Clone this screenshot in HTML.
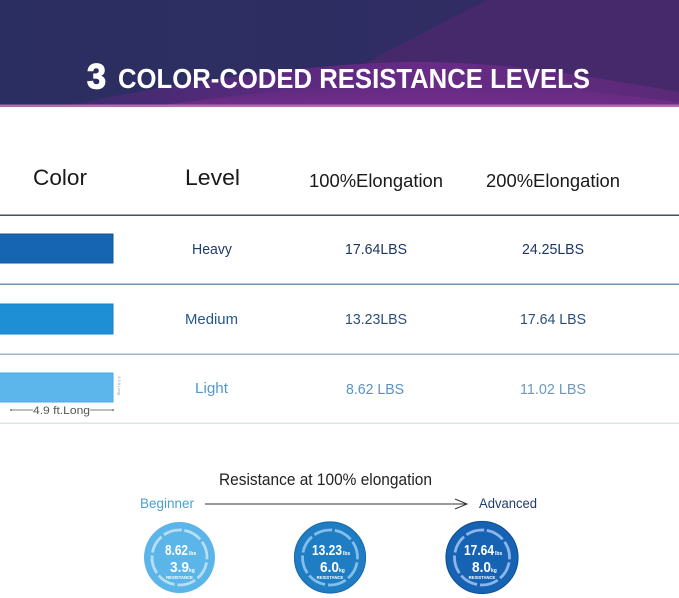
<!DOCTYPE html>
<html>
<head>
<meta charset="utf-8">
<style>
html,body{margin:0;padding:0;background:#fff;}
body{width:679px;height:598px;overflow:hidden;}
svg{display:block;}
text{font-family:"Liberation Sans","DejaVu Sans",sans-serif;}
</style>
</head>
<body>
<svg width="679" height="598" viewBox="0 0 679 598" xmlns="http://www.w3.org/2000/svg">
  <defs>
    <linearGradient id="bg" x1="0" y1="0" x2="1" y2="0">
      <stop offset="0" stop-color="#2b2e61"/>
      <stop offset="0.6" stop-color="#2f2d63"/>
      <stop offset="1" stop-color="#3a2b66"/>
    </linearGradient>
    <linearGradient id="mag" x1="0" y1="0" x2="1" y2="0">
      <stop offset="0" stop-color="#3c2b6c"/>
      <stop offset="0.35" stop-color="#5a2a7e"/>
      <stop offset="0.6" stop-color="#682b86"/>
      <stop offset="1" stop-color="#5a2a78"/>
    </linearGradient>
    <linearGradient id="mag2" x1="0" y1="0" x2="0" y2="1">
      <stop offset="0" stop-color="#6f2c88" stop-opacity="0"/>
      <stop offset="1" stop-color="#7a2e8e" stop-opacity="0.8"/>
    </linearGradient>
  </defs>

  <!-- Banner -->
  <rect x="0" y="0" width="679" height="107" fill="url(#bg)"/>
  <path d="M487,0 L679,0 L679,107 L300,107 L380,55 Z" fill="#46296a"/>
  <path d="M60,107 C150,88 280,66 400,62 C500,60 600,78 679,92 L679,107 Z" fill="url(#mag)"/>
  <path d="M150,107 C300,85 420,78 520,84 C590,90 640,98 679,102 L679,107 Z" fill="url(#mag2)"/>
  <rect x="0" y="104.5" width="679" height="2.5" fill="#b86aae"/>

  <!-- Title -->
  <text x="87" y="88.5" font-size="35" font-weight="bold" fill="#fff" stroke="#fff" stroke-width="1.2" textLength="19" lengthAdjust="spacingAndGlyphs">3</text>
  <text x="118" y="88" font-size="27.5" font-weight="bold" fill="#fff" textLength="472" lengthAdjust="spacingAndGlyphs">COLOR-CODED RESISTANCE LEVELS</text>

  <!-- Table header -->
  <text x="33" y="185" font-size="22" fill="#1a1a1a" textLength="54" lengthAdjust="spacingAndGlyphs">Color</text>
  <text x="185" y="185" font-size="22" fill="#1a1a1a" textLength="55" lengthAdjust="spacingAndGlyphs">Level</text>
  <text x="309" y="187" font-size="18" fill="#1a1a1a" textLength="134" lengthAdjust="spacingAndGlyphs">100%Elongation</text>
  <text x="486" y="187" font-size="18" fill="#1a1a1a" textLength="134" lengthAdjust="spacingAndGlyphs">200%Elongation</text>

  <!-- Row lines -->
  <rect x="0" y="214.5" width="679" height="1.5" fill="#3e5367"/>
  <rect x="0" y="283.5" width="679" height="1.5" fill="#7592b2"/>
  <rect x="0" y="353.5" width="679" height="1.5" fill="#9fb8cf"/>
  <rect x="0" y="422.5" width="679" height="1.5" fill="#dfe4e9"/>

  <!-- Bars -->
  <rect x="-1" y="234" width="114" height="29" fill="#1565b2" stroke="#0f56a0" stroke-width="1"/>
  <rect x="-1" y="304" width="114" height="30" fill="#1e8fd5" stroke="#1a7fc4" stroke-width="1"/>
  <rect x="-1" y="373" width="114" height="29" fill="#5cb6ec" stroke="#4fa8e0" stroke-width="1"/>
  <text transform="translate(118,376) rotate(90)" font-size="4" fill="#999">4.9 ft Long</text>

  <!-- 4.9 ft.Long -->
  <line x1="11" y1="410" x2="33" y2="410" stroke="#555" stroke-width="0.8"/>
  <line x1="90" y1="410" x2="113" y2="410" stroke="#555" stroke-width="0.8"/>
  <circle cx="11" cy="410" r="0.9" fill="#555"/>
  <circle cx="113" cy="410" r="0.9" fill="#555"/>
  <text x="33" y="414" font-size="11" fill="#555" textLength="57" lengthAdjust="spacingAndGlyphs">4.9 ft.Long</text>

  <!-- Row text -->
  <text x="192" y="254" font-size="15" fill="#1f3c6c" textLength="40" lengthAdjust="spacingAndGlyphs">Heavy</text>
  <text x="345" y="254" font-size="15" fill="#1f3560" textLength="62" lengthAdjust="spacingAndGlyphs">17.64LBS</text>
  <text x="522" y="254" font-size="15" fill="#1f3560" textLength="62" lengthAdjust="spacingAndGlyphs">24.25LBS</text>

  <text x="185" y="324" font-size="15" fill="#23588e" textLength="53" lengthAdjust="spacingAndGlyphs">Medium</text>
  <text x="345" y="324" font-size="15" fill="#2a4f78" textLength="62" lengthAdjust="spacingAndGlyphs">13.23LBS</text>
  <text x="520" y="324" font-size="15" fill="#2a4f78" textLength="66" lengthAdjust="spacingAndGlyphs">17.64 LBS</text>

  <text x="195" y="393" font-size="15" fill="#4d9ad0" textLength="33" lengthAdjust="spacingAndGlyphs">Light</text>
  <text x="346" y="394" font-size="15" fill="#5a92c0" textLength="58" lengthAdjust="spacingAndGlyphs">8.62 LBS</text>
  <text x="520" y="394" font-size="15" fill="#6e98bc" textLength="66" lengthAdjust="spacingAndGlyphs">11.02 LBS</text>

  <!-- Bottom section -->
  <text x="219" y="485" font-size="16.5" fill="#222" textLength="213" lengthAdjust="spacingAndGlyphs">Resistance at 100% elongation</text>
  <text x="140" y="508" font-size="13.5" fill="#4a9fd2" textLength="54" lengthAdjust="spacingAndGlyphs">Beginner</text>
  <line x1="205" y1="504" x2="467" y2="504" stroke="#333" stroke-width="1"/>
  <polyline points="455,499 467,504 455,509" fill="none" stroke="#333" stroke-width="1"/>
  <text x="479" y="508" font-size="13.5" fill="#1f3c6c" textLength="58" lengthAdjust="spacingAndGlyphs">Advanced</text>

  <!-- Circle 1 -->
  <g>
    <circle cx="179.5" cy="557.5" r="35.5" fill="#5cb5e9"/>
    <circle cx="179.5" cy="557.5" r="27.5" fill="none" stroke="#b8def6" stroke-width="2.8" stroke-dasharray="18.6 3" transform="rotate(-80 179.5 557.5)"/>
    <text x="165" y="555" font-size="15" font-weight="bold" fill="#fff" textLength="23" lengthAdjust="spacingAndGlyphs">8.62</text>
    <text x="189" y="555" font-size="5" font-weight="bold" fill="#fff">lbs</text>
    <text x="170" y="572" font-size="15" font-weight="bold" fill="#fff" textLength="19" lengthAdjust="spacingAndGlyphs">3.9</text>
    <text x="189" y="572" font-size="5" font-weight="bold" fill="#fff">kg</text>
    <text x="179.5" y="579" font-size="4.2" font-weight="bold" fill="#fff" text-anchor="middle">RESISTANCE</text>
  </g>

  <!-- Circle 2 -->
  <g>
    <circle cx="330" cy="557.5" r="35.5" fill="#1f7dc4"/>
    <circle cx="330" cy="557.5" r="35.5" fill="none" stroke="#1a6cae" stroke-width="1.2"/>
    <circle cx="330" cy="557.5" r="27.5" fill="none" stroke="#86bdea" stroke-width="2.8" stroke-dasharray="18.6 3" transform="rotate(-80 330 557.5)"/>
    <text x="312" y="555" font-size="15" font-weight="bold" fill="#fff" textLength="30" lengthAdjust="spacingAndGlyphs">13.23</text>
    <text x="343" y="555" font-size="5" font-weight="bold" fill="#fff">lbs</text>
    <text x="320" y="572" font-size="15" font-weight="bold" fill="#fff" textLength="19" lengthAdjust="spacingAndGlyphs">6.0</text>
    <text x="339" y="572" font-size="5" font-weight="bold" fill="#fff">kg</text>
    <text x="330" y="579" font-size="4.2" font-weight="bold" fill="#fff" text-anchor="middle">RESISTANCE</text>
  </g>

  <!-- Circle 3 -->
  <g>
    <circle cx="482" cy="557.5" r="36" fill="#1763b3"/>
    <circle cx="482" cy="557.5" r="36" fill="none" stroke="#12529a" stroke-width="1.2"/>
    <circle cx="482" cy="557.5" r="27.5" fill="none" stroke="#8fb4e9" stroke-width="2.8" stroke-dasharray="18.6 3" transform="rotate(-80 482 557.5)"/>
    <text x="464" y="555" font-size="15" font-weight="bold" fill="#fff" textLength="30" lengthAdjust="spacingAndGlyphs">17.64</text>
    <text x="495" y="555" font-size="5" font-weight="bold" fill="#fff">lbs</text>
    <text x="472" y="572" font-size="15" font-weight="bold" fill="#fff" textLength="19" lengthAdjust="spacingAndGlyphs">8.0</text>
    <text x="491" y="572" font-size="5" font-weight="bold" fill="#fff">kg</text>
    <text x="482" y="579" font-size="4.2" font-weight="bold" fill="#fff" text-anchor="middle">RESISTANCE</text>
  </g>
</svg>
</body>
</html>
